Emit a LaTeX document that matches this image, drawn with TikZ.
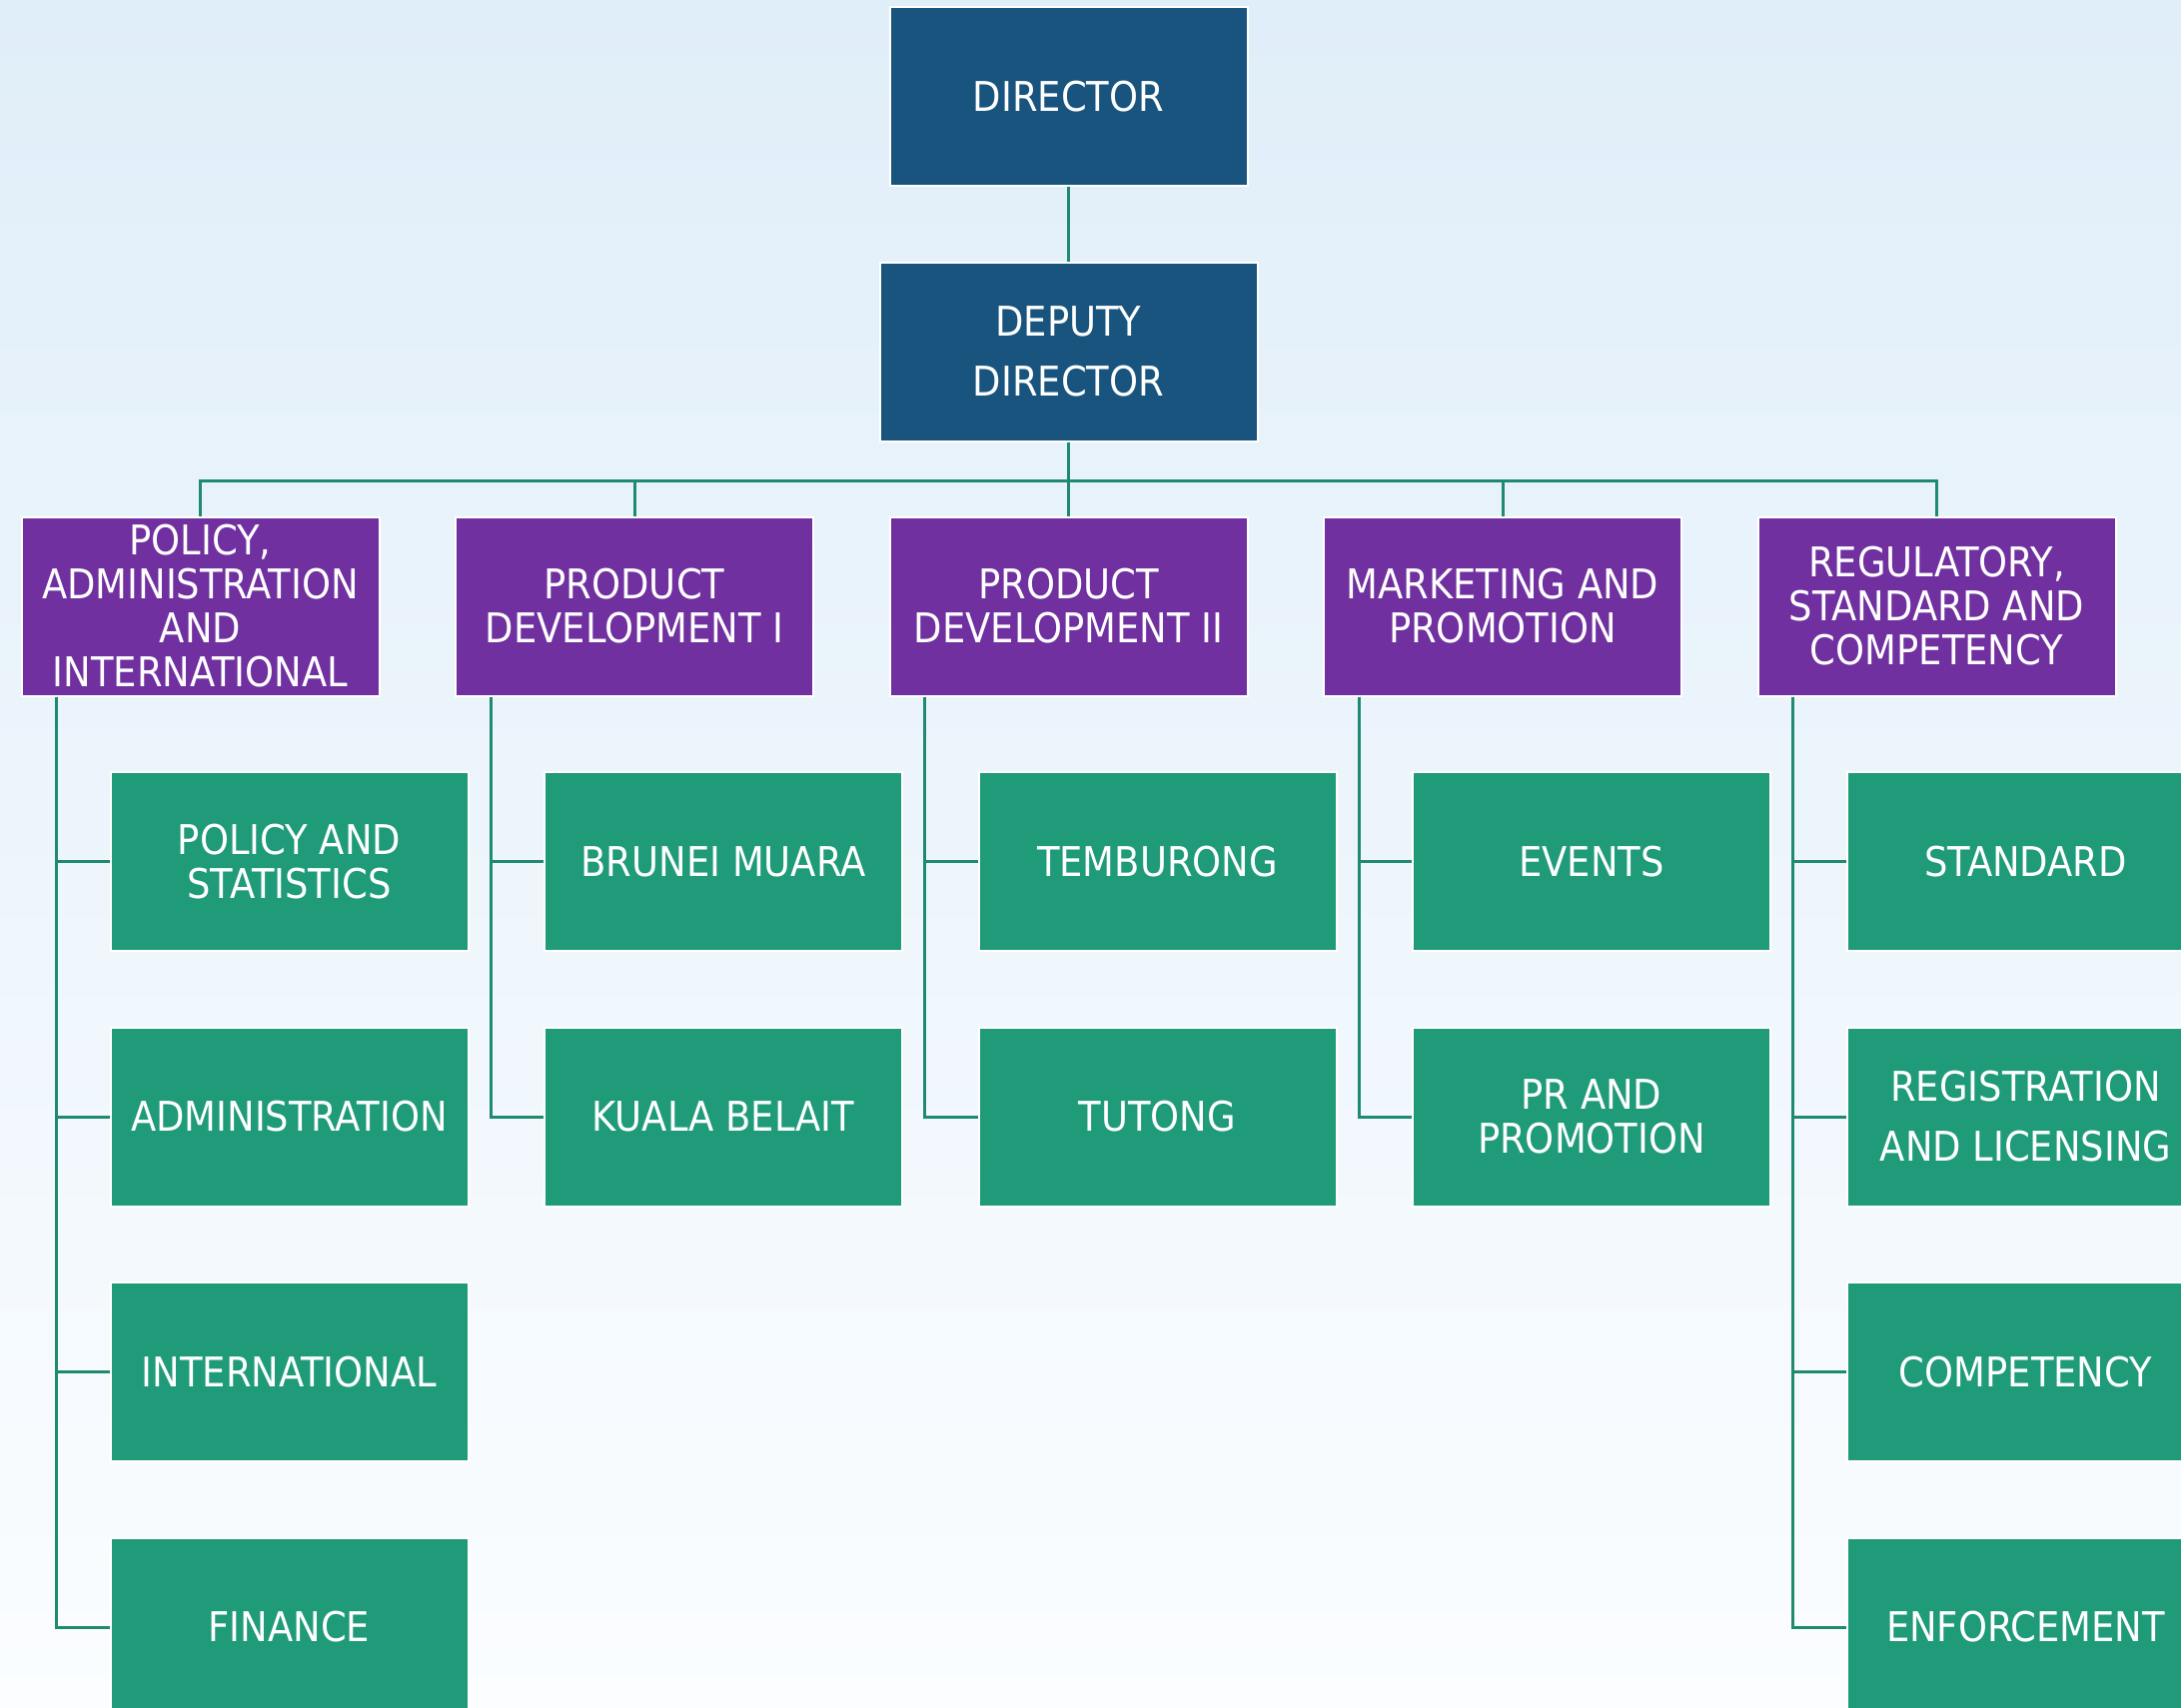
\documentclass[tikz,border=0pt]{standalone}
\usepackage{fontspec}
\setmainfont{DejaVu Sans Condensed}
\usepackage{tikz}
\usetikzlibrary{calc}

\definecolor{dirblue}{HTML}{18547E}
\definecolor{deptpurple}{HTML}{7030A0}
\definecolor{unitgreen}{HTML}{1F9B79}
\definecolor{linegreen}{HTML}{1E8A6E}
\definecolor{bgtop}{HTML}{E0EEF9}
\definecolor{bgbottom}{HTML}{FBFDFF}

\tikzset{
    box/.style={rectangle,draw=white,line width=1pt,text=white,align=center,
        minimum width=179pt,minimum height=89.5pt,inner sep=1pt,
        font=\fontsize{20.5}{22}\selectfont},
    headbox/.style={box,fill=dirblue},
    deptbox/.style={box,fill=deptpurple},
    unitbox/.style={box,fill=unitgreen},
    conn/.style={draw=linegreen,line width=1.5pt}
}

\begin{document}
\begin{tikzpicture}[x=0.5pt,y=-0.5pt]
            \useasboundingbox (0,0) rectangle (2183,1709);
            \shade[top color=bgtop,bottom color=bgbottom] (0,0) rectangle (2183,1709);
            % top of the chart
            \node[headbox] (dir) at (1069.5,96.5) {DIRECTOR};
            \node[headbox,minimum width=189pt] (dep) at (1069.5,352) {DEPUTY\\[8pt]DIRECTOR};
            \draw[conn] (dir) -- (dep);
            % departments
            \foreach \i/\name in {0/{POLICY,\\ADMINISTRATION\\AND\\INTERNATIONAL},
                    1/{PRODUCT\\DEVELOPMENT I},2/{PRODUCT\\DEVELOPMENT II},
                    3/{MARKETING AND\\PROMOTION},4/{REGULATORY,\\STANDARD AND\\COMPETENCY}} {
                \node[deptbox] (dept\i) at (200.5+434.5*\i,607) {\name};
                \draw[conn] (dep.south) -- ++(0,-19.5pt) -| (dept\i.north);
            }
            % units
            \foreach \k/\t in {0/{POLICY AND\\STATISTICS},1/ADMINISTRATION,2/INTERNATIONAL,3/FINANCE} {
                \node[unitbox] (unit0-\k) at (289.5,862.5+255.5*\k) {\t};
                \draw[conn] ([xshift=18pt]dept0.south west) |- (unit0-\k.west);
            }
            \foreach \k/\t in {0/BRUNEI MUARA,1/KUALA BELAIT} {
                \node[unitbox] (unit1-\k) at (724,862.5+255.5*\k) {\t};
                \draw[conn] ([xshift=18pt]dept1.south west) |- (unit1-\k.west);
            }
            \foreach \k/\t in {0/TEMBURONG,1/TUTONG} {
                \node[unitbox] (unit2-\k) at (1158.5,862.5+255.5*\k) {\t};
                \draw[conn] ([xshift=18pt]dept2.south west) |- (unit2-\k.west);
            }
            \foreach \k/\t in {0/EVENTS,1/{PR AND\\PROMOTION}} {
                \node[unitbox] (unit3-\k) at (1593,862.5+255.5*\k) {\t};
                \draw[conn] ([xshift=18pt]dept3.south west) |- (unit3-\k.west);
            }
            \foreach \k/\t in {0/STANDARD,1/{REGISTRATION\\[8pt]AND LICENSING},2/COMPETENCY,3/ENFORCEMENT} {
                \node[unitbox] (unit4-\k) at (2027.5,862.5+255.5*\k) {\t};
                \draw[conn] ([xshift=18pt]dept4.south west) |- (unit4-\k.west);
            }
        \end{tikzpicture}
\end{document}
